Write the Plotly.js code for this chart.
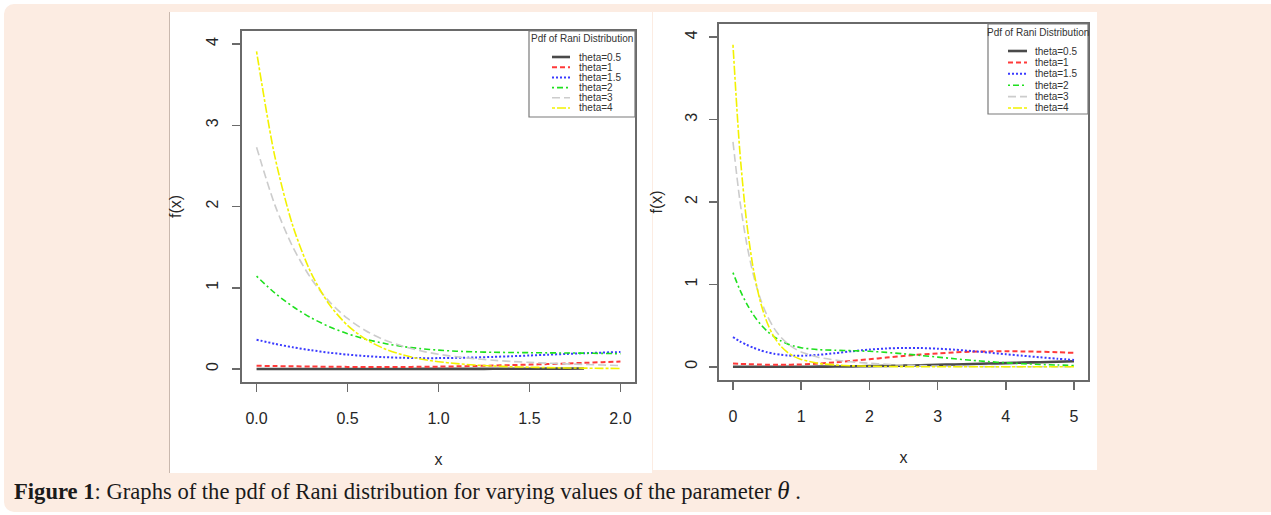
<!DOCTYPE html>
<html><head><meta charset="utf-8">
<script src="https://cdn.plot.ly/plotly-3.0.1.min.js"></script>
<style>
html,body{margin:0;padding:0;background:#fff;width:1271px;height:515px;overflow:hidden;}
#bg{position:absolute;left:4px;top:4px;width:1290px;height:508px;background:#fcece2;border-radius:10px 0 0 10px;}
.panel{position:absolute;background:#fff;}
#p1{left:169px;top:12px;width:482px;height:461px;border-left:1px solid #c9b8ae;}
#p2{left:653px;top:12px;width:444px;height:458px;}
#chart{position:absolute;left:0;top:0;width:1271px;height:515px;}
#cap{position:absolute;left:14px;top:477px;font-family:"Liberation Serif","DejaVu Serif",serif;font-size:22.6px;color:#1a1a1a;white-space:nowrap;}
</style></head>
<body>
<div id="bg"></div><div class="panel" id="p1"></div><div class="panel" id="p2"></div>
<div id="chart"></div>
<div id="cap"><b>Figure 1</b>: Graphs of the pdf of Rani distribution for varying values of the parameter <i style="font-size:25px">θ</i> .</div>
<script>
// ---------- data ----------
const seriesNames = ["theta=0.5","theta=1","theta=1.5","theta=2","theta=3","theta=4"];

const xLeft   = [0,0.1,0.2,0.3,0.4,0.5,0.6,0.7,0.8,0.9,1.0,1.1,1.2,1.3,1.4,1.5,1.6,1.7,1.8,1.9,2.0];
const xLeft05 = [0,0.1,0.2,0.3,0.4,0.5,0.6,0.7,0.8,0.9,1.0,1.1,1.2,1.3,1.4,1.5,1.6,1.7,1.8];
const th05L = [0.0007,0.0006,0.0006,0.0006,0.0005,0.0006,0.0006,0.0007,0.0008,0.0010,0.0012,0.0015,0.0018,0.0023,0.0028,0.0034,0.0041,0.0049,0.0058];
const th1L  = [0.040,0.036,0.033,0.030,0.028,0.026,0.025,0.025,0.025,0.027,0.029,0.033,0.037,0.042,0.048,0.054,0.061,0.068,0.076,0.084,0.092];
const th15L = [0.361,0.310,0.267,0.231,0.201,0.177,0.159,0.146,0.138,0.134,0.134,0.137,0.142,0.149,0.157,0.166,0.176,0.185,0.194,0.202,0.209];
const th2L  = [1.143,0.936,0.767,0.630,0.520,0.434,0.367,0.316,0.278,0.251,0.232,0.219,0.211,0.206,0.203,0.201,0.199,0.197,0.195,0.192,0.188];
const th3L  = [2.730,2.023,1.499,1.113,0.829,0.622,0.471,0.361,0.282,0.224,0.181,0.150,0.126,0.108,0.093,0.082,0.072,0.063,0.056,0.049,0.043];
const th4L  = [3.908,2.620,1.757,1.180,0.794,0.537,0.366,0.252,0.176,0.124,0.090,0.066,0.049,0.037,0.028,0.022,0.017,0.013,0.011,0.008,0.007];

const xRight = [0,0.1,0.2,0.3,0.4,0.5,0.6,0.7,0.8,0.9,1.0,1.25,1.5,1.75,2.0,2.25,2.5,2.75,3.0,3.25,3.5,3.75,4.0,4.25,4.5,4.75,5.0];
const th05R = [0.0007,0.0006,0.0006,0.0006,0.0005,0.0006,0.0006,0.0007,0.0008,0.0010,0.0012,0.0021,0.0034,0.0054,0.0079,0.0110,0.0147,0.0190,0.0237,0.0287,0.0340,0.0395,0.0451,0.0508,0.0563,0.0616,0.0668];
const th1R  = [0.040,0.036,0.033,0.030,0.028,0.026,0.025,0.025,0.025,0.027,0.029,0.039,0.054,0.072,0.092,0.112,0.132,0.149,0.163,0.175,0.183,0.187,0.188,0.187,0.183,0.177,0.169];
const th15R = [0.361,0.310,0.267,0.231,0.201,0.177,0.159,0.146,0.138,0.134,0.134,0.145,0.166,0.189,0.209,0.223,0.229,0.228,0.220,0.208,0.191,0.173,0.153,0.134,0.116,0.099,0.083];
const th2R  = [1.143,0.936,0.767,0.630,0.520,0.434,0.367,0.316,0.278,0.251,0.232,0.208,0.201,0.196,0.188,0.175,0.158,0.138,0.118,0.098,0.079,0.063,0.049,0.038,0.029,0.022,0.016];
const th3R  = [2.730,2.023,1.499,1.113,0.829,0.622,0.471,0.361,0.282,0.224,0.181,0.117,0.082,0.059,0.043,0.031,0.021,0.014,0.009,0.006,0.004,0.002,0.001,0.001,0.001,0.000,0.000];
const th4R  = [3.908,2.620,1.757,1.180,0.794,0.537,0.366,0.252,0.176,0.124,0.090,0.042,0.022,0.012,0.007,0.004,0.002,0.001,0.001,0.000,0.000,0.000,0.000,0.000,0.000,0.000,0.000];

const xTickValsLeft  = [0,0.5,1,1.5,2];
const xTickTextLeft  = ["0.0","0.5","1.0","1.5","2.0"];
const xTickValsRight = [0,1,2,3,4,5];
const xTickTextRight = ["0","1","2","3","4","5"];
const yTickVals = [0,1,2,3,4];
const yTickText = ["0","1","2","3","4"];
const legendTitle = "Pdf of Rani Distribution";

// ---------- styles ----------
const styles = [
  {color:"#4a4a4a", dash:"solid",            width:2.6},
  {color:"#ff3a3a", dash:"5px,3px",          width:2},
  {color:"#3a3aff", dash:"2px,2px",          width:2},
  {color:"#1ee01e", dash:"2px,3px,6px,3px",  width:1.6},
  {color:"#cccccc", dash:"8px,4px",          width:1.6},
  {color:"#f2f200", dash:"3px,2px,9px,2px",  width:1.6}
];

const W = 1271, H = 515;
const px = v => v / W, py = v => 1 - v / H;

const leftX  = [xLeft05, xLeft, xLeft, xLeft, xLeft, xLeft];
const leftY  = [th05L, th1L, th15L, th2L, th3L, th4L];
const rightY = [th05R, th1R, th15R, th2R, th3R, th4R];

const traces = [];
leftY.forEach((ys, i) => traces.push({
  x: leftX[i], y: ys, type: "scatter", mode: "lines", name: seriesNames[i],
  xaxis: "x", yaxis: "y", showlegend: false,
  line: {color: styles[i].color, dash: styles[i].dash, width: styles[i].width, shape: "spline", smoothing: 0.8}
}));
rightY.forEach((ys, i) => traces.push({
  x: xRight, y: ys, type: "scatter", mode: "lines", name: seriesNames[i],
  xaxis: "x2", yaxis: "y2", showlegend: false,
  line: {color: styles[i].color, dash: styles[i].dash, width: styles[i].width, shape: "spline", smoothing: 0.8}
}));

const sans = "Liberation Sans, Arial, sans-serif";
const tickFont = {family: sans, size: 16, color: "#262626"};
const titleFont = {family: sans, size: 16, color: "#262626"};
const axBase = {
  showline: true, mirror: true, linecolor: "#6a6a6a", linewidth: 1.6,
  ticks: "outside", ticklen: 8, tickwidth: 1.5, tickcolor: "#6a6a6a",
  showgrid: false, zeroline: false, tickfont: tickFont, fixedrange: true
};

// legends drawn in the R style (compact box)
const legendBoxes = [
  {box:[529,31,635,117], tx:582, ty:38, l0:552, l1:570, txt:577, y0:57, dy:10.2},
  {box:[988,24,1088,114], tx:1038, ty:32, l0:1008, l1:1027, txt:1033, y0:51, dy:11.4}
];
const shapes = [], annotations = [];
legendBoxes.forEach(L => {
  shapes.push({type:"rect", xref:"paper", yref:"paper", x0:px(L.box[0]), x1:px(L.box[2]), y0:py(L.box[1]), y1:py(L.box[3]),
               line:{color:"#7a7a7a", width:1.2}, fillcolor:"rgba(255,255,255,0)"});
  annotations.push({xref:"paper", yref:"paper", x:px(L.tx), y:py(L.ty), text:legendTitle, showarrow:false,
                    xanchor:"center", yanchor:"middle", font:{family:sans, size:10, color:"#333"}});
  seriesNames.forEach((n, i) => {
    const yy = L.y0 + i * L.dy;
    shapes.push({type:"line", xref:"paper", yref:"paper", x0:px(L.l0), x1:px(L.l1), y0:py(yy), y1:py(yy),
                 line:{color:styles[i].color, dash:styles[i].dash, width:styles[i].width}});
    annotations.push({xref:"paper", yref:"paper", x:px(L.txt), y:py(yy), text:n, showarrow:false,
                      xanchor:"left", yanchor:"middle", font:{family:sans, size:10, color:"#333"}});
  });
});

const layout = {
  width: W, height: H, margin: {l:0, r:0, t:0, b:0},
  paper_bgcolor: "rgba(0,0,0,0)", plot_bgcolor: "rgba(0,0,0,0)",
  showlegend: false,
  xaxis: Object.assign({}, axBase, {domain:[px(242), px(635)], range:[-0.08, 2.08], anchor:"y",
          tickvals:xTickValsLeft, ticktext:xTickTextLeft, ticklabelstandoff:13,
          title:{text:"x", font:titleFont, standoff:28}}),
  yaxis: Object.assign({}, axBase, {domain:[py(382), py(31)], range:[-0.16, 4.16], anchor:"x",
          tickvals:yTickVals, ticktext:yTickText, tickangle:-90, ticklabelstandoff:8,
          title:{text:"f(x)", font:titleFont, standoff:18}}),
  xaxis2: Object.assign({}, axBase, {domain:[px(719), px(1088)], range:[-0.205, 5.205], anchor:"y2",
          tickvals:xTickValsRight, ticktext:xTickTextRight, ticklabelstandoff:13,
          title:{text:"x", font:titleFont, standoff:28}}),
  yaxis2: Object.assign({}, axBase, {domain:[py(380), py(24)], range:[-0.16, 4.16], anchor:"x2",
          tickvals:yTickVals, ticktext:yTickText, tickangle:-90, ticklabelstandoff:6,
          title:{text:"f(x)", font:titleFont, standoff:16}}),
  shapes: shapes, annotations: annotations
};

Plotly.newPlot("chart", traces, layout, {staticPlot: true, displayModeBar: false});
</script>
</body></html>
